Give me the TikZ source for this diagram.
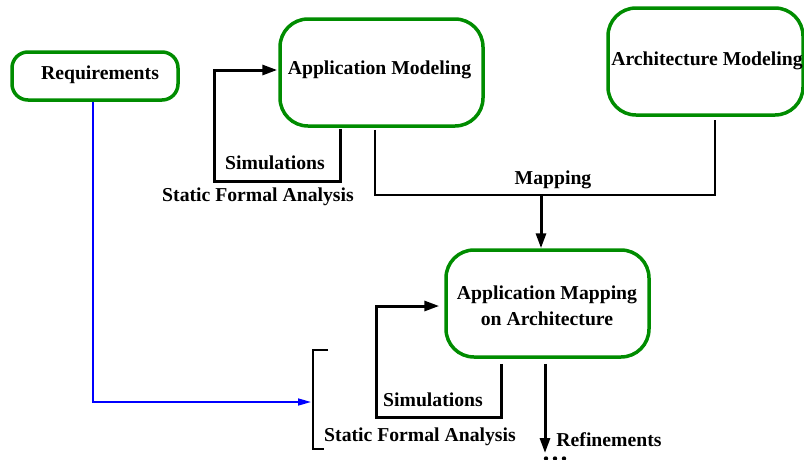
\documentclass[tikz,border=0pt]{standalone}
\usepackage{fontspec}
\setmainfont{Liberation Serif}
\usetikzlibrary{arrows.meta,calc}
\definecolor{boxgreen}{RGB}{0,140,0}
\definecolor{linkblue}{RGB}{0,0,255}
\begin{document}
\begin{tikzpicture}[x=1pt,y=-1pt,
  font=\fontsize{19.7}{25}\selectfont\bfseries,
  box/.style={draw=boxgreen,line width=3.5pt,rounded corners=#1,inner sep=0pt,align=center},
  lbl/.style={inner sep=0pt,anchor=center},
  thickline/.style={line width=3pt,line cap=butt},
  thinline/.style={line width=2pt},
  bigtip/.style={-{Triangle[length=15pt,width=10pt]}},
]
\useasboundingbox (0,0) rectangle (804,459);

% boxes
\node[box=16pt,minimum width=166pt,minimum height=48pt] (req) at (95,76) {};
\node[lbl] (reqt) at (100,75) {Requirements};
\node[box=28pt,minimum width=203pt,minimum height=107pt] (am) at (381.5,72.5) {};
\node[lbl] (amt) at (379.5,70) {Application Modeling};
\node[box=28pt,minimum width=195pt,minimum height=107pt] (arch) at (705.5,61.5) {};
\node[lbl] (archt) at (707,61) {Architecture Modeling};
\node[box=28pt,minimum width=203pt,minimum height=107pt] (map) at (547.5,303.5) {};
\node[lbl,align=center] (mapt) at (547,306) {Application Mapping\\[1pt]on Architecture};

% labels
\node[lbl] (sim1) at (275,163) {Simulations};
\node[lbl] (sfa1) at (258,197) {Static Formal Analysis};
\node[lbl] (mapping) at (553,180) {Mapping};
\node[lbl] (sim2) at (433,400) {Simulations};
\node[lbl] (sfa2) at (420,437) {Static Formal Analysis};
\node[lbl] (ref) at (609,440) {Refinements};

% coordinates
\coordinate (l1s) at ($(am.south)+(-41.5,1)$);
\coordinate (l1c) at (214,181);
\coordinate (l1e) at ($(am.west)+(-1,-2.5)$);
\coordinate (m1) at ($(am.south)+(-6.5,2)$);
\coordinate (jn) at (541,195);
\coordinate (m2) at ($(arch.south)+(9.5,3)$);
\coordinate (l2s) at ($(map.south)+(-46.5,5)$);
\coordinate (l2c) at (376,417);
\coordinate (l2e) at ($(map.west)+(-5,2.5)$);
\coordinate (rs) at ($(map.south)+(-2.5,5)$);
\coordinate (re) at (545,453);
\coordinate (brt) at (328,350);
\coordinate (brm) at (313,402);
\coordinate (brb) at (324,449);

% simulation loop 1
\draw[thickline,bigtip] (l1s) |- (l1c) |- (l1e);
% mapping
\draw[thinline] (m1) |- (jn) -| (m2);
\draw[thickline,bigtip] (jn) -- (jn |- map.north);
% simulation loop 2
\draw[thickline,bigtip] (l2s) |- (l2c) |- (l2e);
% refinements
\draw[thickline,bigtip] (rs) -- (re);
% bracket
\draw[thinline] (brt) -| (brm) |- (brb);
% blue link
\draw[linkblue,line width=1.6pt,-{Triangle[length=13pt,width=7pt]}] ($(req.south)+(-2,0)$) |- ($(brm)+(-2,0)$);
% dots
\foreach \xx in {546,555,564} \fill (\xx,458.5) circle (2.2pt);
\end{tikzpicture}
\end{document}
